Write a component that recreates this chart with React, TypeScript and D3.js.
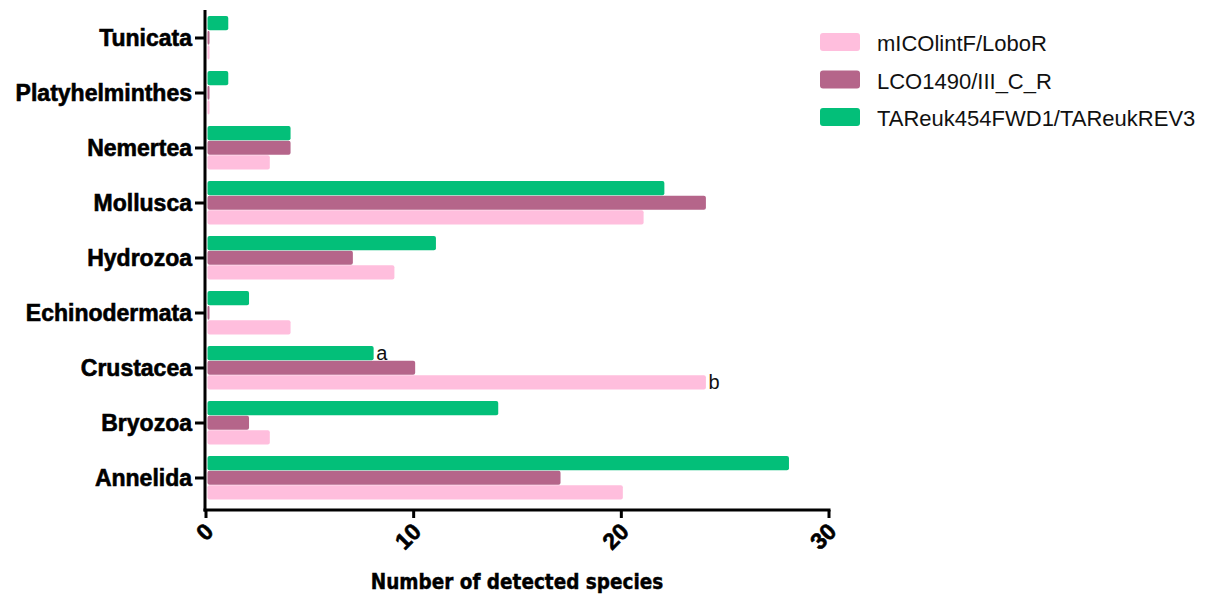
import React from "react";
import * as d3 from "d3";

const categories = [
  "Annelida",
  "Bryozoa",
  "Crustacea",
  "Echinodermata",
  "Hydrozoa",
  "Mollusca",
  "Nemertea",
  "Platyhelminthes",
  "Tunicata",
];

const seriesNames = ["mICOlintF/LoboR", "LCO1490/III_C_R", "TAReuk454FWD1/TAReukREV3"];
const seriesColors = ["#FFBEDD", "#B5658A", "#03BF79"];

const mICOlintF = [20, 3, 24, 4, 9, 21, 3, 0, 0];
const LCO1490 = [17, 2, 10, 0, 7, 24, 4, 0, 0];
const TAReuk = [28, 14, 8, 2, 11, 22, 4, 1, 1];

const xTicks = [0, 10, 20, 30];

// significance letters: [category, series index, letter]
const annotations: [string, number, string][] = [
  ["Crustacea", 2, "a"],
  ["Crustacea", 0, "b"],
];

const W = 1207;
const H = 598;
const left = 206;
const right = 829;
const top = 10.5;
const bottom = 505.5;
const axisY = 510;

export default function App() {
  const series = [mICOlintF, LCO1490, TAReuk];
  const x = d3.scaleLinear().domain([0, 30]).range([left, right]);
  const y = d3
    .scaleBand<string>()
    .domain([...categories].reverse())
    .range([top, bottom])
    .paddingInner(0.2)
    .paddingOuter(0.1);
  // draw order inside each group: green on top, then purple, then pink
  const inner = d3
    .scaleBand<number>()
    .domain([2, 1, 0])
    .range([0, y.bandwidth()]);

  const catFont = "'Liberation Sans', Arial, sans-serif";

  return (
    <svg
      width={W}
      height={H}
      style={{ position: "absolute", left: 0, top: 0, background: "#fff" }}
    >
      {/* bars */}
      {categories.map((c, ci) =>
        series.map((vals, si) => {
          const w = Math.max(x(vals[ci]) - x(0), 2);
          return (
            <rect
              key={c + si}
              x={x(0) + 1.5}
              y={(y(c) as number) + (inner(si) as number)}
              width={w}
              height={inner.bandwidth() - 0.5}
              rx={2}
              fill={seriesColors[si]}
            />
          );
        })
      )}

      {/* annotations */}
      {annotations.map(([c, si, t]) => {
        const vals = series[si];
        const ci = categories.indexOf(c);
        return (
          <text
            key={c + si}
            x={x(vals[ci]) + 4}
            y={(y(c) as number) + (inner(si) as number) + inner.bandwidth() / 2 + 6.5}
            fontFamily="'Liberation Sans', Arial, sans-serif"
            fontSize={20}
            fill="#111"
          >
            {t}
          </text>
        );
      })}

      {/* y axis */}
      <line x1={205} x2={205} y1={10} y2={axisY + 1.5} stroke="#000" strokeWidth={3} />
      {categories.map((c) => {
        const cy = (y(c) as number) + y.bandwidth() / 2;
        return (
          <g key={c}>
            <line x1={195} x2={205} y1={cy} y2={cy} stroke="#000" strokeWidth={3} />
            <text
              x={192}
              y={cy + 8}
              textAnchor="end"
              fontFamily={catFont}
              fontWeight="bold"
              fontSize={23}
              stroke="#000"
              strokeWidth={0.6}
              fill="#000"
            >
              {c}
            </text>
          </g>
        );
      })}

      {/* x axis */}
      <line x1={203.5} x2={right + 1.5} y1={axisY} y2={axisY} stroke="#000" strokeWidth={3} />
      {xTicks.map((t) => (
        <g key={t}>
          <line x1={x(t)} x2={x(t)} y1={axisY} y2={axisY + 8} stroke="#000" strokeWidth={3} />
          <text
            transform={`translate(${x(t) - 3},${axisY + 11}) rotate(-45)`}
            textAnchor="end"
            dominantBaseline="hanging"
            fontFamily={catFont}
            fontWeight="bold"
            fontSize={23}
            stroke="#000"
            strokeWidth={0.6}
            fill="#000"
          >
            {t}
          </text>
        </g>
      ))}
      <text
        x={517}
        y={589}
        textAnchor="middle"
        fontFamily="'Liberation Sans Narrow', 'DejaVu Sans Condensed', Arial, sans-serif"
        fontWeight="bold"
        fontSize={20.5}
        stroke="#000"
        strokeWidth={0.4}
        fill="#000"
      >
        Number of detected species
      </text>

      {/* legend */}
      {seriesNames.map((n, i) => (
        <g key={n} transform={`translate(820, ${33 + i * 37.5})`}>
          <rect width={40} height={18} rx={3} fill={seriesColors[i]} />
          <text
            x={57}
            y={18}
            fontFamily="'Liberation Sans', Arial, sans-serif"
            fontSize={22}
            fill="#111"
          >
            {n}
          </text>
        </g>
      ))}
    </svg>
  );
}
